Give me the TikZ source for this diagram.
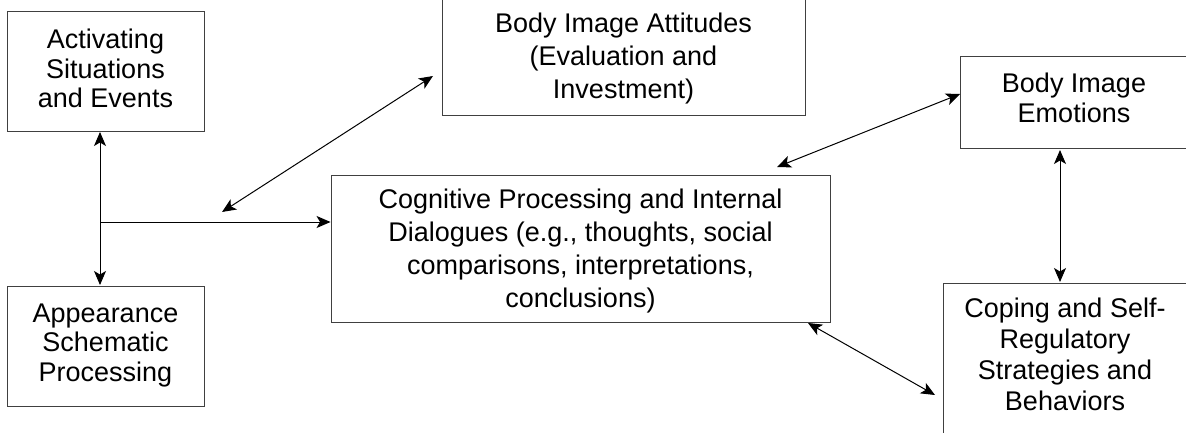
\documentclass[tikz,border=0pt]{standalone}
\usepackage{fontspec}
\setmainfont{Liberation Sans}
\usetikzlibrary{arrows.meta}
\begin{document}
\begin{tikzpicture}[x=1pt,y=-1pt,
  box/.style={draw=black!75, line width=0.9pt, inner sep=0pt},
  txt/.style={align=center, inner sep=0pt, font=\fontsize{27}{#1}\selectfont},
  tip/.tip={Stealth[length=14pt,width=12pt,inset=3.5pt]},
  biarrow/.style={line width=1pt, tip-tip},
  onearrow/.style={line width=1pt, -tip}]
\useasboundingbox (0,0) rectangle (1186,433);
\clip (0,0) rectangle (1186,433);
\fill[white] (0,0) rectangle (1186,433);
\node[box, minimum width=197pt, minimum height=120pt,
  label={[txt=29.5, yshift=2.5pt]center:{Activating\\Situations\\and Events}}] (act) at (105.5,71) {};
\node[box, minimum width=197pt, minimum height=120pt,
  label={[txt=29.5, yshift=0.5pt]center:{Appearance\\Schematic\\Processing}}] (app) at (105.5,346) {};
\node[box, minimum width=363pt, minimum height=122pt,
  label={[txt=33, yshift=-5pt]center:{Body Image Attitudes\\(Evaluation and\\Investment)}}] (att) at (623.5,54) {};
\node[box, minimum width=499pt, minimum height=147pt,
  label={[txt=33, yshift=-3pt]center:{Cognitive Processing and Internal\\Dialogues (e.g., thoughts, social\\comparisons, interpretations,\\conclusions)}}] (cog) at (580.5,248.5) {};
\node[box, minimum width=228pt, minimum height=92pt,
  label={[txt=30, yshift=4.5pt]center:{Body Image\\Emotions}}] (emo) at (1074,102.5) {};
\node[box, minimum width=244pt, minimum height=166pt,
  label={[txt=31, yshift=11.5pt]center:{Coping and Self-\\Regulatory\\Strategies and\\Behaviors}}] (cop) at (1065,366) {};
% connectors
\coordinate (v1) at (100,132);
\coordinate (v2) at (100,285);
\draw[biarrow] (v1) -- (v2);
\coordinate (j) at (101,222);
\draw[onearrow] (j) -- (cog.west |- j);
\coordinate (d1) at (222,212);
\coordinate (d2) at (433,76);
\draw[biarrow] (d1) -- (d2);
\coordinate (e1) at (777,167);
\coordinate (e2) at (960,94);
\draw[biarrow] (e1) -- (e2);
\coordinate (c1) at (808,323);
\coordinate (c2) at (935,395);
\draw[biarrow] (c1) -- (c2);
\coordinate (m1) at (1060,150);
\coordinate (m2) at (1060,282);
\draw[biarrow] (m1) -- (m2);
\end{tikzpicture}
\end{document}
